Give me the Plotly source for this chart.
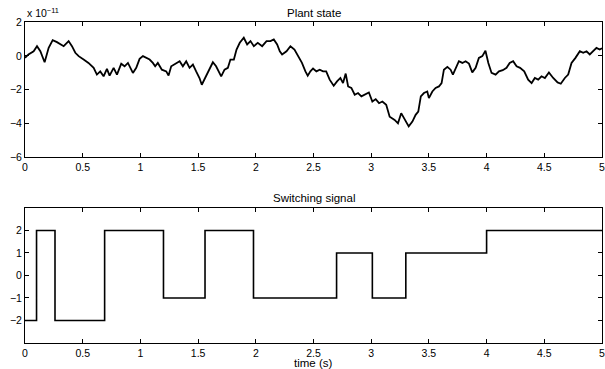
import plotly.graph_objects as go
from plotly.subplots import make_subplots

# Plant state (values in units of 1e-11)
plant_t = [0.0, 0.03, 0.075, 0.104, 0.133, 0.17, 0.205, 0.24, 0.277, 0.306, 0.335, 0.378, 0.407,
           0.436, 0.465, 0.508, 0.55, 0.595, 0.623, 0.652, 0.681, 0.71, 0.733, 0.768, 0.797,
           0.834, 0.863, 0.892, 0.935, 0.964, 0.993, 1.022, 1.05, 1.08, 1.108, 1.128, 1.151,
           1.186, 1.224, 1.244, 1.267, 1.31, 1.34, 1.368, 1.397, 1.426, 1.455, 1.483, 1.512,
           1.532, 1.561, 1.59, 1.628, 1.656, 1.68, 1.70, 1.729, 1.758, 1.78, 1.81, 1.833,
           1.861, 1.896, 1.925, 1.954, 1.983, 2.017, 2.055, 2.093, 2.127, 2.156, 2.185, 2.208,
           2.228, 2.266, 2.30, 2.335, 2.372, 2.40, 2.43, 2.45, 2.473, 2.496, 2.525, 2.554,
           2.583, 2.61, 2.64, 2.675, 2.704, 2.733, 2.756, 2.779, 2.80, 2.828, 2.857, 2.886,
           2.915, 2.944, 2.98, 3.01, 3.039, 3.068, 3.097, 3.13, 3.16, 3.203, 3.232, 3.26,
           3.29, 3.325, 3.357, 3.385, 3.408, 3.43, 3.457, 3.486, 3.50, 3.53, 3.558, 3.587,
           3.61, 3.63, 3.66, 3.688, 3.708, 3.732, 3.76, 3.79, 3.818, 3.847, 3.876, 3.905,
           3.933, 3.963, 3.99, 4.015, 4.043, 4.078, 4.107, 4.14, 4.173, 4.20, 4.23, 4.26,
           4.29, 4.326, 4.36, 4.39, 4.418, 4.447, 4.476, 4.505, 4.54, 4.577, 4.615, 4.643,
           4.678, 4.707, 4.736, 4.77, 4.808, 4.837, 4.866, 4.894, 4.924, 4.952, 4.98, 5.0]
plant_x = [-0.12, 0.08, 0.27, 0.57, 0.27, -0.38, 0.47, 0.93, 0.81, 0.67, 0.57, 0.87, 0.57,
           0.18, -0.02, -0.22, -0.42, -0.71, -1.11, -0.92, -1.21, -0.77, -1.17, -0.71, -1.11,
           -0.47, -0.62, -0.42, -1.01, -0.71, -0.18, -0.02, -0.12, -0.22, -0.42, -0.62, -0.42,
           -0.82, -0.92, -1.17, -0.62, -0.42, -0.32, -0.62, -0.32, -0.71, -0.52, -0.92, -1.31,
           -1.71, -1.31, -0.98, -0.38, -0.62, -0.9, -1.21, -0.82, -0.71, -0.22, -0.22, 0.37,
           0.77, 1.07, 0.67, 0.87, 0.57, 0.77, 0.57, 0.87, 0.87, 0.97, 0.67, 0.27,
           0.08, 0.27, 0.57, 0.37, -0.12, -0.42, -0.92, -1.17, -0.92, -0.75, -0.92, -0.82,
           -0.92, -0.92, -1.41, -1.77, -1.51, -1.31, -1.61, -1.05, -1.81, -1.90, -2.30, -2.20,
           -2.40, -2.30, -2.17, -2.70, -2.56, -2.80, -2.70, -2.90, -3.60, -3.79, -3.99, -3.39,
           -3.79, -4.17, -3.89, -3.49, -3.30, -2.40, -2.20, -2.11, -2.50, -2.11, -1.90, -1.81,
           -1.61, -0.82, -0.65, -0.82, -1.11, -0.71, -0.32, -0.42, -0.32, -0.46, -0.98, -0.71,
           -0.12, -0.02, 0.30, -0.42, -1.01, -1.11, -0.92, -0.85, -0.71, -0.42, -0.32, -0.62,
           -0.71, -0.92, -1.41, -1.61, -1.31, -1.41, -1.21, -1.31, -0.98, -1.31, -1.57, -1.65,
           -1.31, -1.11, -0.42, -0.12, 0.27, 0.18, 0.27, 0.08, 0.27, 0.47, 0.37, 0.45]

# Switching signal
switch_t = [0.0, 0.10, 0.26, 0.69, 1.20, 1.56, 1.98, 2.70, 3.01, 3.30, 4.00, 5.0]
switch_v = [-2, 2, -2, 2, -1, 2, -1, 1, -1, 1, 2, 2]

x_ticks = [0, 0.5, 1, 1.5, 2, 2.5, 3, 3.5, 4, 4.5, 5]
x_tick_labels = ["0", "0.5", "1", "1.5", "2", "2.5", "3", "3.5", "4", "4.5", "5"]
top_y_ticks = [-6, -4, -2, 0, 2]
bottom_y_ticks = [-2, -1, 0, 1, 2]

FONT = "Liberation Sans, Arial, Helvetica, sans-serif"
TICK_SIZE = 10.5
TITLE_SIZE = 11.5

fig = make_subplots(rows=2, cols=1, vertical_spacing=0.0)
fig.add_trace(go.Scatter(x=plant_t, y=plant_x, mode="lines",
                         line=dict(color="black", width=1.8), showlegend=False), row=1, col=1)
fig.add_trace(go.Scatter(x=switch_t, y=switch_v, mode="lines", line_shape="hv",
                         line=dict(color="black", width=1.6), showlegend=False), row=2, col=1)

axis_common = dict(showgrid=False, zeroline=False, showline=True, linecolor="black",
                   linewidth=1, mirror="ticks", ticks="inside", ticklen=4,
                   tickcolor="black", tickwidth=1, automargin=False,
                   tickfont=dict(family=FONT, size=TICK_SIZE, color="black"))

fig.update_xaxes(range=[0, 5], tickvals=x_ticks, ticktext=x_tick_labels,
                 ticklabeloverflow="allow", **axis_common)
fig.update_yaxes(ticklabeloverflow="allow", **axis_common)
fig.update_yaxes(range=[-6, 2], tickvals=top_y_ticks, row=1, col=1)
fig.update_yaxes(range=[-3, 3], tickvals=bottom_y_ticks, row=2, col=1)


def py(pix):
    # convert a pixel row to paper fraction (plot area: rows 22..343)
    return (343 - pix) / 321.0


fig.update_layout(
    width=605, height=369,
    margin=dict(l=25, r=3, t=22, b=26, autoexpand=False),
    paper_bgcolor="white", plot_bgcolor="white",
    font=dict(family=FONT, size=TICK_SIZE, color="black"),
    yaxis=dict(domain=[0.5785, 1.0]),
    yaxis2=dict(domain=[0.0, 0.4206]),
    annotations=[
        dict(text="Plant state", x=0.5, y=py(13), xref="paper", yref="paper",
             yanchor="middle", showarrow=False, font=dict(family=FONT, size=TITLE_SIZE)),
        dict(text="Switching signal", x=0.5, y=py(197.5), xref="paper", yref="paper",
             yanchor="middle", showarrow=False, font=dict(family=FONT, size=TITLE_SIZE)),
        dict(text="time (s)", x=0.5, y=py(363), xref="paper", yref="paper",
             yanchor="middle", showarrow=False, font=dict(family=FONT, size=TITLE_SIZE)),
        dict(text="x 10<sup>\u221211</sup>", x=0.0, y=py(21), xref="paper", yref="paper",
             xanchor="left", yanchor="bottom", showarrow=False,
             font=dict(family=FONT, size=TICK_SIZE)),
    ],
)

fig.write_html(
    "out.html",
    config={"displayModeBar": False, "staticPlot": True},
    post_script="document.body.style.margin='0';document.body.style.overflow='hidden';",
)
